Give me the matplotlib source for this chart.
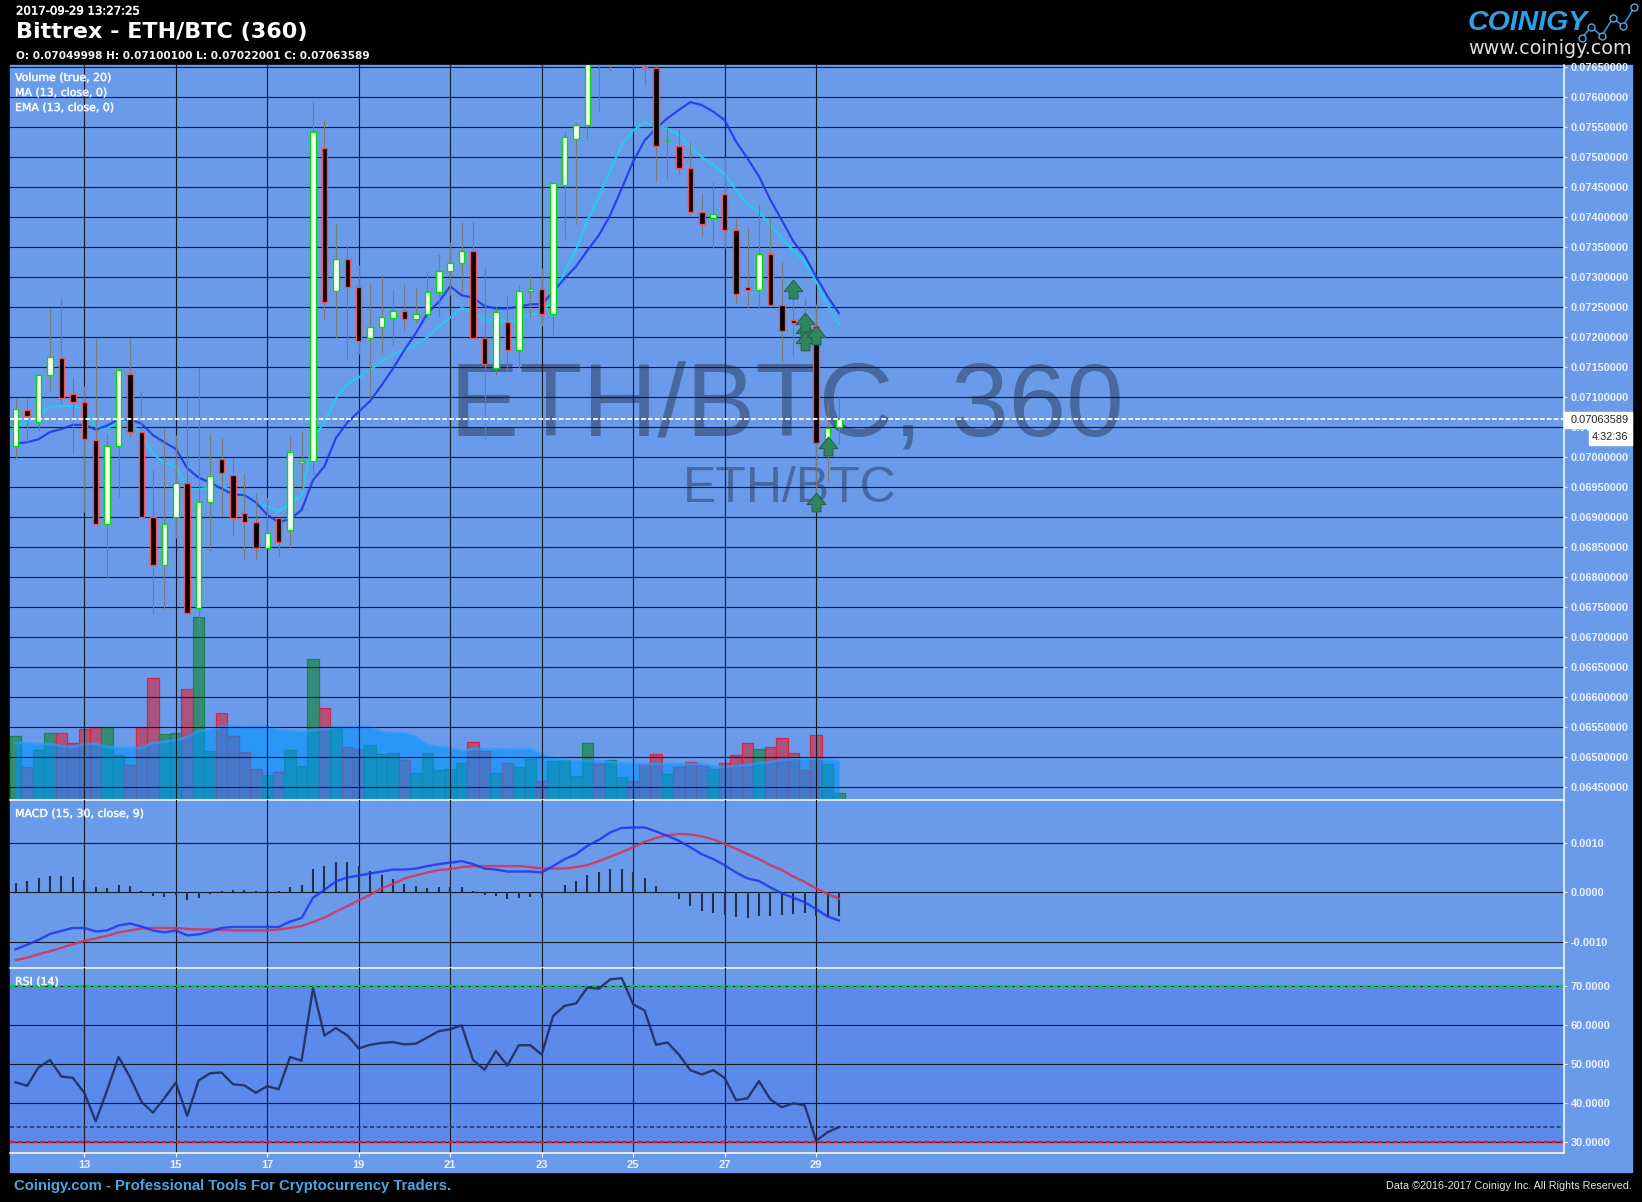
import matplotlib
matplotlib.use('Agg')
import numpy as np
import matplotlib.pyplot as plt
import matplotlib.patheffects as pe
from matplotlib.lines import Line2D
from matplotlib.patches import Rectangle
from matplotlib.path import Path

W, H = 1642, 1202

# candles, price in 1e-5 BTC
opens = [7018, 7079, 7058, 7137, 7166, 7106, 7092, 7029, 6888, 7018,
         7138, 7042, 6901, 6821, 6900, 6957, 6748, 6925, 6997, 6970,
         6907, 6892, 6848, 6898, 6878, 6990, 6993, 7515, 7277, 7330,
         7283, 7198, 7217, 7232, 7243, 7230, 7238, 7275, 7310, 7323,
         7343, 7198, 7148, 7225, 7178, 7277, 7280, 7238, 7453, 7530,
         7553, 7680, 7660, 7680, 7695, 7650, 7648, 7528, 7518, 7482,
         7408, 7398, 7438, 7378, 7283, 7278, 7338, 7254, 7228, 7224,
         7218, 7023, 7050]
closes = [7080, 7068, 7137, 7167, 7098, 7092, 7030, 6888, 7018, 7145,
          7042, 6901, 6821, 6888, 6957, 6740, 6925, 6968, 6973, 6898,
          6892, 6848, 6873, 6858, 7008, 6993, 7542, 7258, 7330, 7283,
          7193, 7217, 7233, 7243, 7230, 7238, 7275, 7310, 7323, 7343,
          7198, 7155, 7242, 7178, 7277, 7280, 7238, 7457, 7533, 7553,
          7680, 7660, 7680, 7695, 7670, 7648, 7518, 7529, 7482, 7408,
          7388, 7406, 7378, 7272, 7278, 7338, 7254, 7211, 7224, 7212,
          7023, 7048, 7063.6]
highs = [7099, 7099, 7139, 7249, 7266, 7133, 7118, 7199, 7038, 7145,
         7199, 7108, 6978, 7048, 7037, 7099, 7148, 7038, 7032, 6998,
         6972, 6940, 6934, 6898, 7036, 7044, 7594, 7564, 7389, 7354,
         7321, 7291, 7306, 7279, 7289, 7282, 7308, 7339, 7358, 7392,
         7393, 7315, 7251, 7268, 7287, 7306, 7315, 7457, 7543, 7558,
         7690, 7700, 7710, 7710, 7700, 7665, 7660, 7549, 7547, 7525,
         7440, 7458, 7501, 7398, 7383, 7422, 7401, 7327, 7291, 7265,
         7256, 7089, 7100.1]
lows = [6999, 7026, 7044, 7111, 7089, 7006, 6908, 6888, 6799, 6933,
        7034, 6901, 6741, 6746, 6865, 6740, 6711, 6844, 6902, 6869,
        6828, 6831, 6848, 6833, 6849, 6945, 6970, 7231, 7199, 7164,
        7172, 7099, 7174, 7186, 7211, 7223, 7231, 7233, 7271, 7275,
        7198, 7029, 7137, 7142, 7148, 7233, 7218, 7204, 7364, 7389,
        7531, 7576, 7644, 7655, 7649, 7621, 7458, 7464, 7471, 7403,
        7369, 7348, 7348, 7257, 7249, 7249, 7250, 7159, 7168, 7179,
        6929, 6959, 7022]

ma13 = [7023, 7025, 7030, 7042, 7047, 7054, 7054, 7046, 7053, 7063,
        7063, 7056, 7037, 7025, 7014, 6982, 6966, 6958, 6948, 6938,
        6937, 6925, 6904, 6892, 6897, 6912, 6962, 6985, 7032, 7058,
        7076, 7094, 7120, 7148, 7179, 7207, 7240, 7259, 7285, 7270,
        7266, 7252, 7248, 7248, 7251, 7255, 7255, 7276, 7298, 7318,
        7345, 7370, 7404, 7448, 7493, 7528, 7548, 7565, 7579, 7592,
        7587, 7576, 7562, 7526, 7498, 7468, 7429, 7395, 7360, 7336,
        7301, 7268, 7240]
ema13 = [7055, 7057, 7069, 7084, 7085, 7086, 7079, 7051, 7048, 7059,
         7061, 7037, 7006, 6990, 6985, 6948, 6947, 6950, 6952, 6944,
         6939, 6924, 6918, 6910, 6924, 6936, 7029, 7059, 7098, 7122,
         7133, 7146, 7159, 7171, 7179, 7188, 7200, 7218, 7233, 7249,
         7243, 7228, 7230, 7226, 7230, 7238, 7239, 7265, 7309, 7345,
         7395, 7434, 7479, 7520, 7545, 7557, 7552, 7548, 7537, 7518,
         7500, 7487, 7472, 7445, 7422, 7409, 7387, 7365, 7345, 7326,
         7293, 7254, 7222]

volumes = [64, 33, 50, 67, 67, 57, 71, 73, 73, 45, 35, 73, 122, 66, 67, 111, 183, 49, 87, 64,
           48, 31, 25, 28, 50, 34, 141, 92, 72, 53, 51, 55, 46, 47, 40, 27, 47, 30, 31, 37,
           58, 49, 27, 37, 33, 41, 19, 39, 40, 24, 57, 36, 40, 23, 19, 36, 46, 26, 33, 38,
           35, 31, 37, 45, 57, 51, 53, 62, 47, 30, 65, 36, 7]
vol_ma = [57, 57, 56, 56, 54, 53, 56, 56, 53, 52, 52, 52, 57, 58, 60, 63, 69, 70, 73, 74,
          73, 73, 73, 70, 69, 68, 70, 71, 73, 73, 73, 73, 68, 67, 67, 63, 55, 53, 52, 49,
          51, 51, 51, 51, 50, 51, 45, 42, 40, 39, 39, 39, 38, 37, 36, 36, 36, 36, 36, 36,
          36, 34, 33, 34, 35, 37, 38, 40, 41, 41, 41, 41, 39]

# macd, 1e-5
macd_line = [-115, -106, -96, -84, -78, -72, -72, -79, -77, -67,
             -63, -69, -77, -81, -77, -87, -85, -79, -72, -70,
             -70, -70, -70, -70, -59, -52, -11, 5, 22, 30,
             34, 38, 42, 46, 46, 48, 53, 57, 60, 63,
             57, 48, 46, 42, 42, 42, 40, 53, 67, 77,
             94, 106, 121, 130, 131, 131, 123, 114, 104, 91,
             77, 67, 55, 40, 28, 23, 10, -2, -11, -20,
             -34, -49, -57]
macd_signal = [-137, -132, -125, -119, -112, -105, -98, -93, -88, -81,
               -77, -73, -72, -72, -72, -74, -75, -75, -76, -77,
               -77, -77, -77, -75, -72, -68, -60, -51, -39, -28,
               -16, -5, 8, 17, 28, 34, 40, 45, 47, 51,
               53, 53, 53, 53, 53, 51, 48, 48, 48, 51,
               55, 63, 72, 81, 91, 102, 110, 115, 118, 117,
               113, 107, 98, 88, 77, 67, 55, 45, 32, 21,
               8, -3, -13]
macd_hist = [19, 23, 29, 33, 33, 31, 25, 11, 9, 15,
             13, 3, -7, -9, -5, -15, -11, -3, 3, 5,
             5, 3, 3, 3, 11, 15, 47, 53, 61, 61,
             53, 43, 35, 27, 17, 13, 9, 11, 11, 11,
             3, -5, -7, -13, -11, -9, -11, 0, 15, 23,
             35, 41, 47, 47, 41, 29, 13, 0, -13, -28,
             -38, -42, -46, -50, -52, -48, -48, -46, -44, -42,
             -48, -48, -48]

rsi = [45.4, 44.5, 49.2, 51.1, 46.9, 46.5, 42.7, 35.4, 43.4, 51.9,
       46.7, 40.4, 37.6, 41.3, 45.3, 36.8, 45.9, 47.7, 47.9, 44.9,
       44.6, 42.7, 44.4, 43.6, 51.9, 50.9, 69.5, 57.4, 59.3, 57.4,
       54.1, 55, 55.5, 55.7, 55.1, 55.3, 56.9, 58.5, 59, 60,
       51.1, 48.6, 53.4, 49.7, 54.9, 54.9, 52.5, 62.4, 65, 65.6,
       69.7, 69.4, 71.8, 72.1, 65.4, 63.8, 55, 55.6, 52.5, 48.5,
       47.4, 48.5, 46.5, 40.8, 41.3, 45.7, 41, 39, 40, 39.5,
       30.4, 32.6, 33.9]

# buy arrows: bar index, price
arrow_bars = [68, 69, 69, 69, 70, 70, 71]
arrow_prices = [7280, 7210, 7193, 7226, 7204, 6926, 7019]

date_bars = [6, 14, 22, 30, 38, 46, 54, 62, 70]
date_labels = ['13', '15', '17', '19', '21', '23', '25', '27', '29']
price_ticks = [6450, 6500, 6550, 6600, 6650, 6700, 6750, 6800, 6850, 6900, 6950, 7000, 7050,
               7100, 7150, 7200, 7250, 7300, 7350, 7400, 7450, 7500, 7550, 7600, 7650]
macd_ticks = [-0.001, 0.0, 0.001]
rsi_ticks = [30, 40, 50, 60, 70]
last_price = 0.07063589
rsi_last = 33.9

BG = '#6a9bea'
BAND = '#5c8aeb'
GRID = '#17181f'
TICK = '#eaf1ff'
SANS = 'Liberation Sans'
DEJA = 'DejaVu Sans'

opens = np.array(opens) * 1e-5
closes = np.array(closes) * 1e-5
highs = np.array(highs) * 1e-5
lows = np.array(lows) * 1e-5
ma13 = np.array(ma13) * 1e-5
ema13 = np.array(ema13) * 1e-5
macd_line = np.array(macd_line) * 1e-5
macd_signal = np.array(macd_signal) * 1e-5
macd_hist = np.array(macd_hist) * 1e-5
arrow_prices = np.array(arrow_prices) * 1e-5
price_ticks = np.array(price_ticks) * 1e-5
bars = np.arange(len(opens))
up = closes >= opens


def fx(x):
    return x / W


def fy(y):
    return 1 - y / H


def make_axes(top, bottom, zorder=2):
    ax = fig.add_axes([fx(10), fy(bottom), fx(1564 - 10), (bottom - top) / H], zorder=zorder)
    ax.set_xlim(-0.497, 135.4)
    ax.set_facecolor('none')
    for s in ['top', 'left']:
        ax.spines[s].set_visible(False)
    for s in ['right', 'bottom']:
        ax.spines[s].set_color('white')
        ax.spines[s].set_linewidth(1.1)
    ax.yaxis.tick_right()
    ax.tick_params(axis='y', colors=TICK, length=2.2, width=0.8, pad=2.8, labelsize=7.9)
    ax.tick_params(axis='x', colors='white', length=0, labelbottom=False)
    ax.set_xticks(date_bars)
    ax.grid(True, color=GRID, linewidth=0.8)
    ax.set_axisbelow(True)
    return ax


def style_ticks(ax):
    for t in ax.get_yticklabels():
        t.set_fontfamily(SANS)
        t.set_fontweight('bold')


fig = plt.figure(figsize=(W / 100, H / 100), dpi=100, facecolor='black')
fig.add_artist(Rectangle((fx(10), fy(1172)), fx(1622), (1172 - 65) / H, color=BG,
                         transform=fig.transFigure, zorder=-1))

# volume sits under the price pane
ax_vol = fig.add_axes([fx(10), fy(800), fx(1554), 735 / H], zorder=1)
ax_vol.set_xlim(-0.497, 135.4)
ax_vol.set_ylim(0, 735)
ax_vol.axis('off')
vol_face = [(0.118, 0.53, 0.275, 0.7) if u else (0.78, 0.2, 0.31, 0.7) for u in up]
vol_edge = ['#1b8450' if u else '#e0213f' for u in up]
ax_vol.bar(bars, volumes, width=1.0, color=vol_face, edgecolor=vol_edge, linewidth=0.9)
ax_vol.fill_between(bars, 0, vol_ma, color='#0093ff', alpha=0.6, linewidth=0)
ax_vol.plot(bars, vol_ma, color='#2a9cff', alpha=0.7, linewidth=2)

# price
ax = make_axes(65, 800)
ax.set_ylim(0.064288, 0.076538)
ax.set_yticks(price_ticks)
ax.set_yticklabels(['%.8f' % p for p in price_ticks])
style_ticks(ax)
ax.text(0.2831, 0.0708, 'ETH/BTC, 360', family=SANS, fontsize=74.6, color='#48689f', ha='left', va='center',
        transform=ax.get_yaxis_transform(), zorder=0.4)
ax.text(0.4331, 0.06947, 'ETH/BTC', family=SANS, fontsize=35.9, color='#48689f', ha='left', va='center',
        transform=ax.get_yaxis_transform(), zorder=0.4)
ax.plot(bars, ema13, color='#1fd0f0', alpha=0.9, linewidth=1.6, zorder=2)
ax.plot(bars, ma13, color='#2233e6', alpha=0.85, linewidth=1.6, zorder=2.1)
ax.vlines(bars, lows, highs, color='#7b7b78', linewidth=0.8, zorder=3)
ax.bar(bars, np.abs(closes - opens), bottom=np.minimum(opens, closes), width=0.48,
       color=['white' if u else 'black' for u in up],
       edgecolor=['#00dd00' if u else '#f5524f' for u in up], linewidth=1.0, zorder=4)
ax.axhline(last_price, color='white', linewidth=1.3, dashes=(2.6, 1.2), zorder=5)
arrow = Path([(0, 1), (1, -0.22), (0.47, -0.22), (0.47, -1), (-0.47, -1), (-0.47, -0.22), (-1, -0.22), (0, 1)], closed=True)
ax.plot(arrow_bars, arrow_prices, linestyle='none', marker=arrow, markersize=13.5, color='#2f8658',
        markeredgecolor='#2a5f56', markeredgewidth=0.8, zorder=6)

# macd
ax2 = make_axes(800, 968)
ax2.set_ylim(-0.001529, 0.001865)
ax2.set_yticks(macd_ticks)
ax2.set_yticklabels(['%.4f' % v for v in macd_ticks])
style_ticks(ax2)
ax2.vlines(bars, 0, macd_hist, color='#20304f', linewidth=1.5, zorder=2)
ax2.plot(bars, macd_signal, color='#dc2f55', alpha=0.85, linewidth=1.7, zorder=3)
ax2.plot(bars, macd_line, color='#2233ee', alpha=0.85, linewidth=1.7, zorder=3)

# rsi
ax3 = make_axes(968, 1153)
ax3.set_ylim(27.26, 74.7)
ax3.axhspan(30, 70, color=BAND, linewidth=0, zorder=0)
ax3.set_yticks(rsi_ticks)
ax3.set_yticklabels(['%.4f' % v for v in rsi_ticks])
style_ticks(ax3)
ax3.set_xticklabels(date_labels, family=SANS, fontweight='bold', fontsize=8, color=TICK)
ax3.tick_params(axis='x', length=2.6, width=0.8, labelbottom=True, pad=2.5)
ax3.axhline(70, color='#12c93a', linewidth=1.7, dashes=(2.2, 1.0), zorder=2)
ax3.axhline(30, color='#f0122a', linewidth=1.7, dashes=(2.2, 1.0), zorder=2)
ax3.axhline(rsi_last, color='#27386b', linewidth=1.2, dashes=(2.4, 1.6), zorder=2)
ax3.plot(bars, rsi, color='#1f2f60', alpha=0.9, linewidth=1.7, zorder=3)

# header
thick = [pe.withStroke(linewidth=0.35, foreground='#f2f6ff')]
fig.text(fx(16), fy(11), '2017-09-29 13:27:25', family=DEJA, fontsize=8.4, color='white', va='center', path_effects=thick)
fig.text(fx(16), fy(32), 'Bittrex - ETH/BTC (360)', family=DEJA, fontweight='bold', fontsize=16, color='white', va='center')
fig.text(fx(16), fy(56), 'O: 0.07049998 H: 0.07100100 L: 0.07022001 C: 0.07063589', family=DEJA, fontweight='bold',
         fontsize=7.55, color='#f4f4f4', va='center')

for lab, yy in [('Volume (true, 20)', 78), ('MA (13, close, 0)', 93), ('EMA (13, close, 0)', 108),
                ('MACD (15, 30, close, 9)', 814), ('RSI (14)', 982)]:
    fig.text(fx(15), fy(yy), lab, family=DEJA, fontsize=7.9, color='#f2f6ff', va='center', path_effects=thick)

# current price box and countdown
fig.add_artist(Rectangle((fx(1564), fy(428)), fx(68), 16 / H, color='white', transform=fig.transFigure, zorder=10))
fig.add_artist(Rectangle((fx(1589), fy(445)), fx(43), 16 / H, color='white', transform=fig.transFigure, zorder=10))
fig.text(fx(1571), fy(420), '0.07063589', family=SANS, fontsize=7.9, color='#222222', va='center', zorder=11)
fig.text(fx(1592), fy(437), '4:32:36', family=SANS, fontsize=7.9, color='#222222', va='center', zorder=11)

# footer
fig.text(fx(14), fy(1186), 'Coinigy.com - Professional Tools For Cryptocurrency Traders.', family=SANS, fontweight='bold',
         fontsize=10.75, color='#4aa7e2', va='center')
fig.text(fx(1632), fy(1186), 'Data \u00a92016-2017 Coinigy Inc. All Rights Reserved.', family=SANS, fontsize=7.75,
         color='#e6e6e6', va='center', ha='right')

# logo
fig.text(fx(1468), fy(23), 'COINIGY', family=SANS, fontweight='bold', style='italic', fontsize=20.5,
         color='#2f9fe8', va='center')
fig.text(fx(1468), fy(48), 'www.coinigy.com', family=DEJA, fontsize=13.8, color='#dddddd', va='center')
logo_x = [1581.7, 1591, 1601.7, 1613, 1623, 1634.3]
logo_y = [38.3, 27.3, 35.7, 18.3, 26, 7.3]
fig.add_artist(Line2D([fx(v) for v in logo_x], [fy(v) for v in logo_y], transform=fig.transFigure, color='#3d8ecb', linewidth=1.2,
                      marker='o', markersize=5, markerfacecolor='black', markeredgecolor='#5aa8e0', markeredgewidth=1))

fig.savefig('out.png', dpi=100, facecolor='black')
